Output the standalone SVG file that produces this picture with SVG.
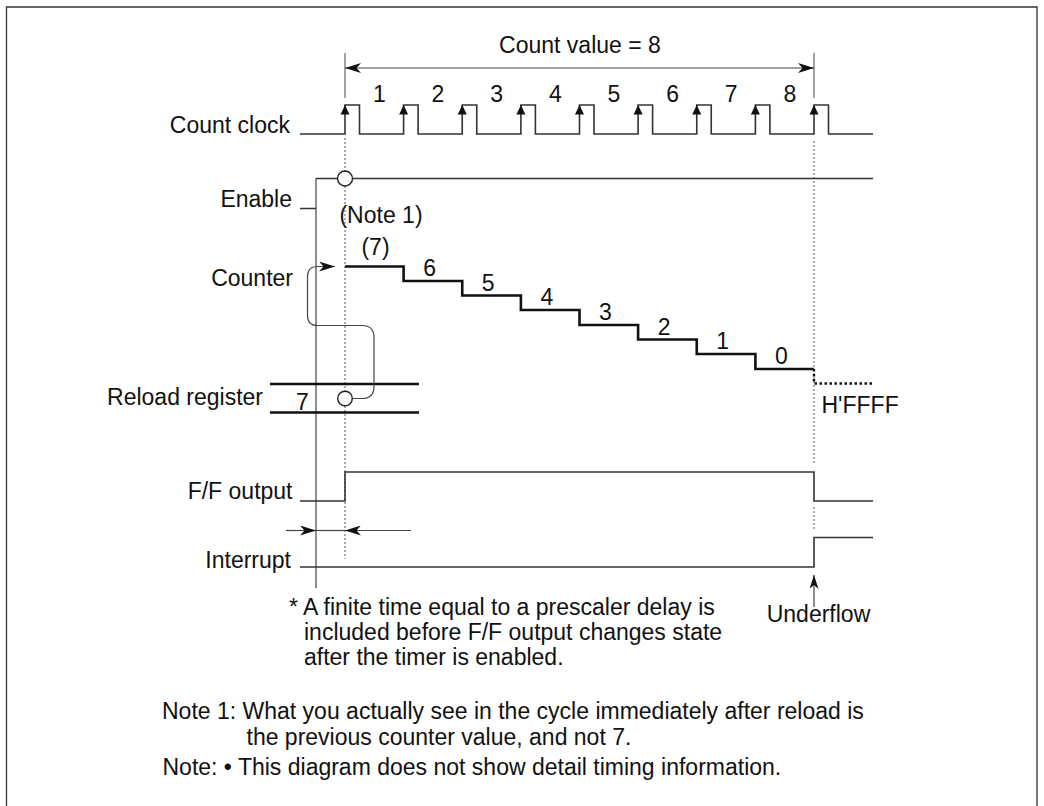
<svg xmlns="http://www.w3.org/2000/svg" xmlns:xlink="http://www.w3.org/1999/xlink" width="1044" height="806" viewBox="0 0 1044 806">
<style>
text{font-family:"Liberation Sans",Arial,sans-serif;font-size:23px;fill:#111}
.end{text-anchor:end}
.mid{text-anchor:middle}
.sig{fill:none;stroke:#333;stroke-width:1.6}
.thick{fill:none;stroke:#111;stroke-width:2.6}
.thin{fill:none;stroke:#444;stroke-width:1.2}
.guide{fill:none;stroke:#777;stroke-width:1.2;stroke-dasharray:2 2}
.tick{fill:none;stroke:#666;stroke-width:1.2}
.circ{fill:#fff;stroke:#222;stroke-width:1.4}
</style>
<defs>
<marker id="arr" markerUnits="userSpaceOnUse" viewBox="0 0 16 10" markerWidth="16" markerHeight="10" refX="16" refY="5" orient="auto-start-reverse">
<path d="M0,0 L16,5 L0,10 L4.5,5 Z" fill="#111"/>
</marker>
<marker id="arrs" markerUnits="userSpaceOnUse" viewBox="0 0 14 9" markerWidth="14" markerHeight="9" refX="14" refY="4.5" orient="auto">
<path d="M0,0 L14,4.5 L0,9 L4,4.5 Z" fill="#111"/>
</marker>
<path id="tri" d="M0,0 L-4.5,9.5 L4.5,9.5 Z" fill="#111"/>
</defs>
<rect width="1044" height="806" fill="#fff"/>
<path id="frame" d="M6.5,815 V7 H1037 V815" fill="none" stroke="#333" stroke-width="1.3"/>

<g id="guides">
<path class="guide" d="M345,138 V559"/>
<path class="guide" d="M814,141 V463 M814,507 V531"/>
<path class="tick" d="M345,53 V98 M814,53 V98"/>
</g>

<g id="count-value">
<text class="mid" x="580" y="53">Count value = 8</text>
</g>

<g id="count-clock">
<text class="end" x="290" y="133">Count clock</text>
<path class="sig" d="M300,134 H345 V105 H359.5 V134 H403.6 V105 H418.1 V134 H462.25 V105 H476.75 V134 H520.9 V105 H535.4 V134 H579.5 V105 H594 V134 H638.1 V105 H652.6 V134 H696.75 V105 H711.25 V134 H755.4 V105 H769.9 V134 H814 V105 H828.5 V134 H873"/>
<use xlink:href="#tri" x="345" y="105"/>
<use xlink:href="#tri" x="403.6" y="105"/>
<use xlink:href="#tri" x="462.25" y="105"/>
<use xlink:href="#tri" x="520.9" y="105"/>
<use xlink:href="#tri" x="579.5" y="105"/>
<use xlink:href="#tri" x="638.1" y="105"/>
<use xlink:href="#tri" x="696.75" y="105"/>
<use xlink:href="#tri" x="755.4" y="105"/>
<use xlink:href="#tri" x="814" y="105"/>
<text class="mid" x="379.5" y="101.5">1</text>
<text class="mid" x="438" y="101.5">2</text>
<text class="mid" x="496.75" y="101.5">3</text>
<text class="mid" x="555.4" y="101.5">4</text>
<text class="mid" x="614" y="101.5">5</text>
<text class="mid" x="672.6" y="101.5">6</text>
<text class="mid" x="731.25" y="101.5">7</text>
<text class="mid" x="789.9" y="101.5">8</text>
</g>

<g id="enable">
<text class="end" x="292" y="207">Enable</text>
<path class="sig" d="M300,208.5 H316 M316,178.5 H873"/>
<path class="thin" d="M316,178.5 V588"/>
<circle class="circ" cx="345" cy="178.5" r="7.5"/>
</g>

<g id="counter">
<text class="end" x="293" y="286">Counter</text>
<path class="thick" d="M345,266.5 H403.6 V281 H462.25 V295.5 H520.9 V310 H579.5 V325 H638.1 V339.5 H696.75 V354 H755.4 V369 H814"/>
<path d="M814,369 V383.5 H873" fill="none" stroke="#111" stroke-width="2.4" stroke-dasharray="2.5 2.5"/>
<text class="mid" x="381" y="223">(Note 1)</text>
<text class="mid" x="375.5" y="255">(7)</text>
<text class="mid" x="429.6" y="276">6</text>
<text class="mid" x="488.25" y="290.5">5</text>
<text class="mid" x="546.9" y="305">4</text>
<text class="mid" x="605.5" y="320">3</text>
<text class="mid" x="664.1" y="334.5">2</text>
<text class="mid" x="722.75" y="349">1</text>
<text class="mid" x="781.4" y="364">0</text>
<text x="821.5" y="413">H'FFFF</text>
</g>

<g id="reload-register">
<text class="end" x="263" y="405">Reload register</text>
<path class="thick" d="M270,384 H419 M270,412.5 H419"/>
<text class="mid" x="302.5" y="410">7</text>
<circle class="circ" cx="345" cy="398.5" r="7.3"/>
</g>

<g id="ff-output">
<text class="end" x="292.5" y="499">F/F output</text>
<path class="sig" d="M300,501 H345 V472 H814 V501 H873"/>
</g>

<g id="interrupt">
<text class="end" x="291" y="568">Interrupt</text>
<path class="sig" d="M300,567 H814 V537.5 H873"/>
<text class="mid" x="818.5" y="622">Underflow</text>
</g>

<g id="connectors">
<path class="thin" d="M345,68 H814" stroke="#111" marker-start="url(#arr)" marker-end="url(#arr)"/>
<path class="thin" d="M352.3,398.5 H362 Q374,398.5 374,386.5 V337.5 Q374,325.5 362,325.5 H317.5 Q307.5,325.5 307.5,315.5 V276.5 Q307.5,266.5 317.5,266.5 H335" marker-end="url(#arr)"/>
<path class="thin" d="M286,530.5 H316" stroke="#111" marker-end="url(#arr)"/>
<path class="thin" d="M316,530.5 H345"/>
<path class="thin" d="M411,530.5 H345" stroke="#111" marker-end="url(#arr)"/>
<path class="thin" d="M814,607 V575" stroke="#111" marker-end="url(#arrs)"/>
</g>

<g id="notes">
<text x="289" y="615">* A finite time equal to a prescaler delay is</text>
<text x="304" y="640">included before F/F output changes state</text>
<text x="304" y="665">after the timer is enabled.</text>
<text x="162" y="719">Note 1: What you actually see in the cycle immediately after reload is</text>
<text x="246.5" y="745">the previous counter value, and not 7.</text>
<text x="162.5" y="775">Note: • This diagram does not show detail timing information.</text>
</g>
</svg>
